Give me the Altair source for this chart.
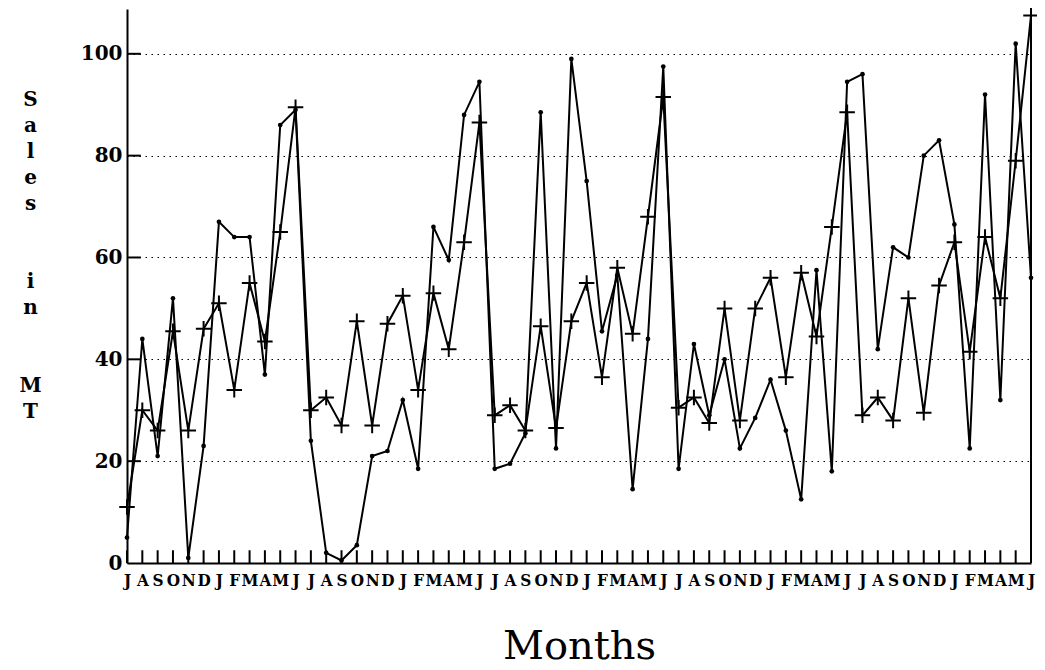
import altair as alt
import pandas as pd

# ---- data ----
month_labels = ["J", "A", "S", "O", "N", "D", "J", "F", "M", "A", "M", "J"] * 5

dot_series = [5, 44, 21, 52, 1, 23, 67, 64, 64, 37,
              86, 89, 24, 2, 0.5, 3.5, 21, 22, 32, 18.5,
              66, 59.5, 88, 94.5, 18.5, 19.5, 25.5, 88.5, 22.5, 99,
              75, 45.5, 56.5, 14.5, 44, 97.5, 18.5, 43, 29, 40,
              22.5, 28.5, 36, 26, 12.5, 57.5, 18, 94.5, 96, 42,
              62, 60, 80, 83, 66.5, 22.5, 92, 32, 102, 56]

plus_series = [11, 30, 26, 45.5, 26, 46, 51, 34, 55, 43.5,
               65, 89.5, 30, 32.5, 27, 47.5, 27, 47, 52.5, 34,
               53, 42, 63, 86.5, 29, 31, 26, 46.5, 26.5, 47.5,
               55, 36.5, 58, 45, 68, 91.5, 30.5, 32.5, 27.5, 50,
               28, 50, 56, 36.5, 57, 44.5, 66, 88.5, 29, 32.5,
               28, 52, 29.5, 54.5, 63, 41.5, 64, 52, 79, 107.5]

y_tick_values = [0, 20, 40, 60, 80, 100]
blank = "\u2800"   # visible-width blank character so the empty lines are kept
y_title_lines = ["S", "a", "l", "e", "s", blank, blank, "i", "n", blank, blank, "M", "T"]
y_max = 108.8
x_tick_len = 2.5      # inward tick length (data units of y)
y_tick_len = 0.9      # inward tick length (data units of x)
frame_top = 107.5

n = len(dot_series)
idx = list(range(n))

df_dot = pd.DataFrame({"month": idx, "sales": dot_series, "series": "dot"})
df_plus = pd.DataFrame({"month": idx, "sales": plus_series, "series": "plus"})
df_all = pd.concat([df_dot, df_plus], ignore_index=True)

df_xticks = pd.DataFrame({"month": idx, "lo": [0] * n, "hi": [x_tick_len] * n})
df_yticks = pd.DataFrame({"val": y_tick_values[1:], "x0": [0] * 5, "x1": [y_tick_len] * 5})
df_frame = pd.DataFrame({"month": [n - 1], "lo": [0], "hi": [frame_top]})

label_expr = "[" + ",".join("'" + m + "'" for m in month_labels) + "][datum.value]"

serif = "DejaVu Serif"
cond_serif = "'DejaVu Serif Condensed', 'DejaVu Serif', serif"

x_scale = alt.Scale(domain=[0, n - 1], nice=False, zero=False)
y_scale = alt.Scale(domain=[0, y_max], nice=False, zero=True)

x_axis = alt.Axis(
    values=idx, labelExpr=label_expr,
    labelFont=cond_serif, labelFontSize=17, labelFontWeight="bold", labelColor="black",
    labelPadding=9, labelOverlap=False, labelFlush=False,
    ticks=False, grid=False, domainColor="black", domainWidth=2,
    title="Months", titleFont=serif, titleFontSize=40, titleFontWeight="normal",
    titleColor="black", titleY=95, titleBaseline="alphabetic",
)
y_axis = alt.Axis(
    values=y_tick_values,
    labelFont=serif, labelFontSize=20, labelFontWeight="bold", labelColor="black",
    labelPadding=5,
    ticks=False, grid=True, gridDash=[1.5, 4.5], gridColor="black", gridWidth=1,
    domainColor="black", domainWidth=2,
    title=y_title_lines, titleAngle=0, titleAlign="center", titleBaseline="top",
    titleX=-97, titleY=80, titleLineHeight=26,
    titleFont=serif, titleFontSize=20, titleFontWeight="bold", titleColor="black",
)

X = alt.X("month:Q", scale=x_scale, axis=x_axis)
Y = alt.Y("sales:Q", scale=y_scale, axis=y_axis)

xticks = alt.Chart(df_xticks).mark_rule(color="black", strokeWidth=2).encode(
    x=X, y=alt.Y("lo:Q", scale=y_scale, axis=y_axis), y2="hi:Q")

yticks = alt.Chart(df_yticks).mark_rule(color="black", strokeWidth=2).encode(
    x=alt.X("x0:Q", scale=x_scale, axis=x_axis), x2="x1:Q",
    y=alt.Y("val:Q", scale=y_scale, axis=y_axis))

frame = alt.Chart(df_frame).mark_rule(color="black", strokeWidth=2).encode(
    x=X, y=alt.Y("lo:Q", scale=y_scale, axis=y_axis), y2="hi:Q")

lines = alt.Chart(df_all).mark_line(color="black", strokeWidth=2).encode(
    x=X, y=Y, detail="series:N")

dots = alt.Chart(df_dot).mark_point(
    shape="circle", filled=True, size=22, color="black", opacity=1).encode(x=X, y=Y)

pluses = alt.Chart(df_plus).mark_point(
    shape="M-1,0L1,0M0,-1L0,1", filled=False, size=240, strokeWidth=2,
    color="black", opacity=1).encode(x=X, y=Y)

chart = alt.layer(xticks, yticks, frame, lines, dots, pluses).properties(
    width=904, height=554,
    autosize=alt.AutoSizeParams(type="none"),
    padding={"left": 119, "top": 1, "right": 6, "bottom": 106},
    background="white",
).configure_view(stroke=None)

chart.save("out.html", embed_options={"renderer": "svg", "actions": False})
